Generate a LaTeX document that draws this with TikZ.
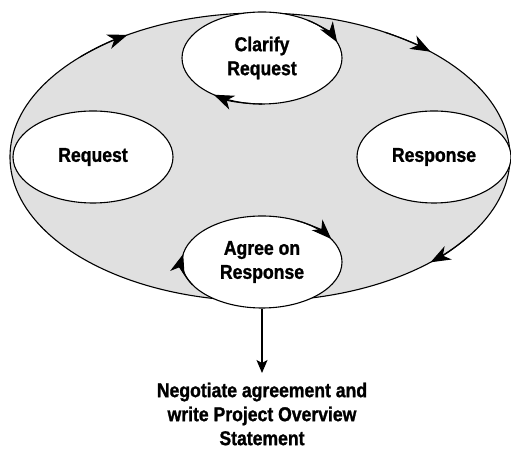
\documentclass[tikz,border=0pt]{standalone}
\usepackage{fontspec}
\setmainfont{Liberation Sans}[FakeStretch=0.88,BoldFeatures={FakeBold=1.2}]
\usetikzlibrary{arrows.meta,positioning,shapes.geometric}

\begin{document}
\begin{tikzpicture}[x=1pt,y=1pt,line width=1.1pt,
	>={Stealth[length=20pt,width=15pt,inset=6pt]},
	every node/.style={font=\fontsize{20}{24}\selectfont\bfseries,align=center,inner sep=0pt},
	cycle/.style={ellipse,draw,fill=black!12,minimum width=500pt,minimum height=288pt},
	phase/.style={ellipse,draw,fill=white,minimum width=160pt,minimum height=92pt},
	flowtip/.style={->}]

	\useasboundingbox (0,0) rectangle (511,449);

	\node[cycle] (loop) at (260,292) {};

	\node[phase] (req)   at (93,292)  {Request};
	\node[phase,minimum width=154pt] (resp) at (434,292) {Response};
	\node[phase] (clar)  at (262,391) {Clarify\\Request};
	\node[phase] (agree) at (262,187) {Agree on\\Response};

	\node (note) at (262,35) {Negotiate agreement and\\write Project Overview\\Statement};

	% arrows round the outer loop
	\draw[flowtip] (loop.center) ++(136:250pt and 144pt) arc[start angle=136,end angle=122,x radius=250pt,y radius=144pt];
	\draw[flowtip] (loop.center) ++(60:250pt and 144pt) arc[start angle=60,end angle=47,x radius=250pt,y radius=144pt];
	\draw[flowtip] (loop.center) ++(-33:250pt and 144pt) arc[start angle=-33,end angle=-47,x radius=250pt,y radius=144pt];

	% arrows round the inner loops
	\draw[flowtip] (clar.center) ++(55:80pt and 46pt) arc[start angle=55,end angle=20,x radius=80pt,y radius=46pt];
	\draw[flowtip] (clar.center) ++(-90:80pt and 46pt) arc[start angle=-90,end angle=-127,x radius=80pt,y radius=46pt];
	\draw[flowtip] (agree.center) ++(65:80pt and 46pt) arc[start angle=65,end angle=30,x radius=80pt,y radius=46pt];
	\draw[flowtip] (agree.center) ++(210:80pt and 46pt) arc[start angle=210,end angle=170,x radius=80pt,y radius=46pt];

	\draw[-{Stealth[length=13pt,width=11pt,inset=3pt]}] (agree.south) -- (262,76);
\end{tikzpicture}
\end{document}
